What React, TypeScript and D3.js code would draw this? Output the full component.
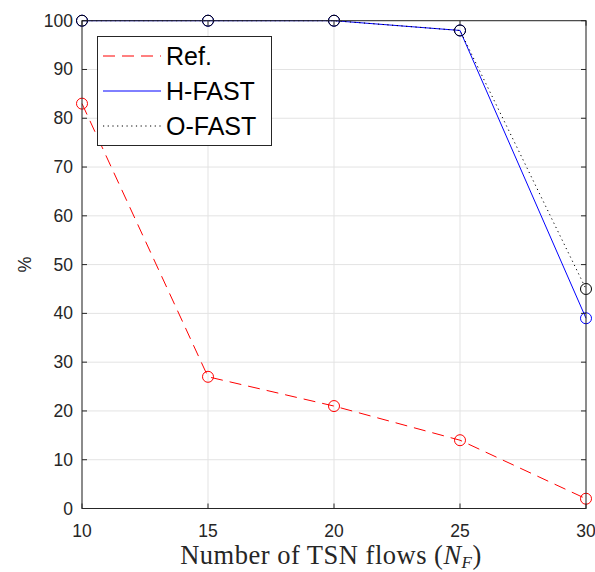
import React from "react";
import * as d3 from "d3";

const xValues = [10, 15, 20, 25, 30];
const refValues = [83, 27, 21, 14, 2];
const hfastValues = [100, 100, 100, 98, 39];
const ofastValues = [100, 100, 100, 98, 45];
const xTicks = [10, 15, 20, 25, 30];
const yTicks = [0, 10, 20, 30, 40, 50, 60, 70, 80, 90, 100];

const W = 595, H = 572;
const L = 82, R = 586, T = 20.7, B = 508.5;

export default function App() {
  const x = d3.scaleLinear().domain([10, 30]).range([L, R]);
  const y = d3.scaleLinear().domain([0, 100]).range([B, T]);
  const line = d3.line<number>().x((_, i) => x(xValues[i])).y((d) => y(d));
  const series = [
    { name: "Ref.", vals: refValues, color: "#ff0000", dash: "12,7", marker: "#ff0000" },
    { name: "H-FAST", vals: hfastValues, color: "#0000ff", dash: "none", marker: "#0000ff" },
    { name: "O-FAST", vals: ofastValues, color: "#000000", dash: "1.2,3.5", marker: "#000000" },
  ];
  const axisColor = "#262626";
  const font = "'Liberation Sans', Arial, sans-serif";
  return (
    <svg width={W} height={H} style={{ position: "absolute", left: 0, top: 0, background: "#fff" }}>
      <rect x={0} y={0} width={W} height={H} fill="#fff" />
      {/* grid */}
      {xTicks.map((t) => (
        <line key={"gx" + t} x1={x(t)} x2={x(t)} y1={T} y2={B} stroke="#e3e3e3" strokeWidth={1} />
      ))}
      {yTicks.map((t) => (
        <line key={"gy" + t} x1={L} x2={R} y1={y(t)} y2={y(t)} stroke="#e3e3e3" strokeWidth={1} />
      ))}
      {/* series */}
      {series.map((s) => (
        <g key={s.name}>
          <path d={line(s.vals) || ""} fill="none" stroke={s.color} strokeWidth={1} strokeDasharray={s.dash} />
          {s.vals.map((v, i) => (
            <circle key={i} cx={x(xValues[i])} cy={y(v)} r={5.5} fill="none" stroke={s.marker} strokeWidth={1} />
          ))}
        </g>
      ))}
      {/* box */}
      <rect x={L} y={T} width={R - L} height={B - T} fill="none" stroke={axisColor} strokeWidth={1} />
      {/* ticks */}
      {xTicks.map((t) => (
        <g key={"tx" + t}>
          <line x1={x(t)} x2={x(t)} y1={B} y2={B - 5} stroke={axisColor} />
          <line x1={x(t)} x2={x(t)} y1={T} y2={T + 5} stroke={axisColor} />
          <text x={x(t)} y={B + 28} textAnchor="middle" fontFamily={font} fontSize={17.5} fill={axisColor}>{t}</text>
        </g>
      ))}
      {yTicks.map((t) => (
        <g key={"ty" + t}>
          <line x1={L} x2={L + 5} y1={y(t)} y2={y(t)} stroke={axisColor} />
          <line x1={R} x2={R - 5} y1={y(t)} y2={y(t)} stroke={axisColor} />
          <text x={L - 9} y={y(t) + 6} textAnchor="end" fontFamily={font} fontSize={17.5} fill={axisColor}>{t}</text>
        </g>
      ))}
      {/* axis labels */}
      <text transform={`translate(31,${(T + B) / 2}) rotate(-90)`} textAnchor="middle" fontFamily={font} fontSize={18} fill={axisColor}>%</text>
      <text x={331} y={564} textAnchor="middle" fontFamily="'Liberation Serif', 'Times New Roman', serif" fontSize={26.5} letterSpacing={0.5} fill={axisColor}>
        Number of TSN flows (<tspan fontStyle="italic">N</tspan><tspan fontStyle="italic" fontSize={17} dy={4}>F</tspan><tspan dy={-4}>)</tspan>
      </text>
      {/* legend */}
      <rect x={97.5} y={36.5} width={174} height={109} fill="#fff" stroke={axisColor} strokeWidth={1} />
      {series.map((s, i) => {
        const ly = 56 + i * 35;
        return (
          <g key={"lg" + s.name}>
            <line x1={103} x2={161} y1={ly} y2={ly} stroke={s.color} strokeWidth={1} strokeDasharray={s.dash} />
            <text x={166} y={ly + 9} fontFamily={font} fontSize={25} fill="#000">{s.name}</text>
          </g>
        );
      })}
    </svg>
  );
}
